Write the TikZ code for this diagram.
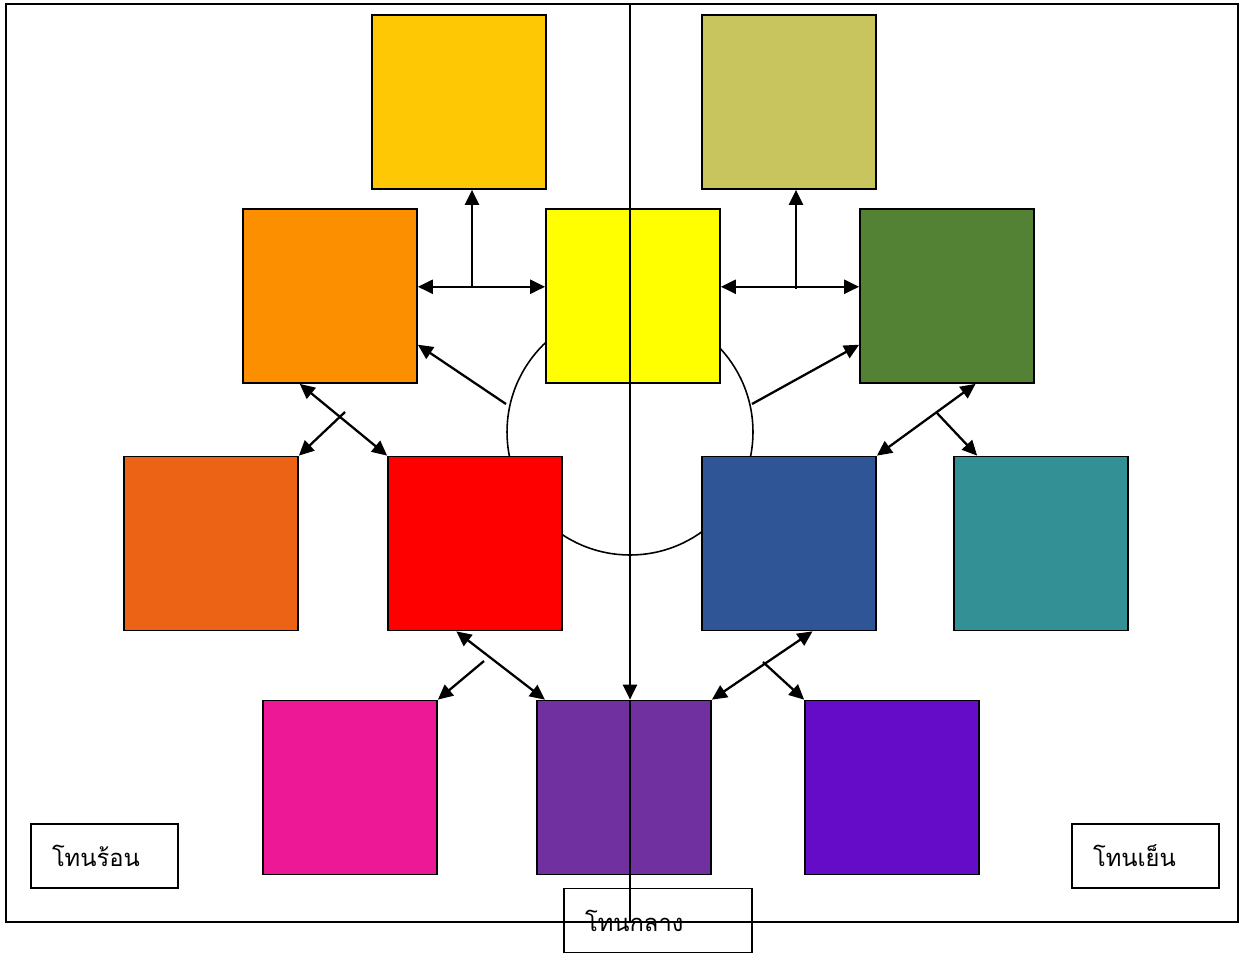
\documentclass[tikz,border=0pt]{standalone}
\usepackage{fontspec}
\newfontfamily\thaifont[Script=Thai]{Loma}
\usetikzlibrary{arrows.meta}
\definecolor{cgold}{HTML}{FFC805}
\definecolor{colive}{HTML}{C8C45E}
\definecolor{corange}{HTML}{FB8F00}
\definecolor{cyellow}{HTML}{FFFF00}
\definecolor{cgreen}{HTML}{548235}
\definecolor{cvermilion}{HTML}{EC6315}
\definecolor{cred}{HTML}{FF0000}
\definecolor{cblue}{HTML}{2F5597}
\definecolor{cteal}{HTML}{339095}
\definecolor{cpink}{HTML}{EC1896}
\definecolor{cpurple}{HTML}{7030A0}
\definecolor{cviolet}{HTML}{640CC8}
\tikzset{
    swatch/.style = {draw,line width=1pt,minimum size=3.48cm,inner sep=0},
    link/.style = {line width=1.3pt},
    ring/.style = {line width=0.9pt},
    tag/.style = {draw,line width=1pt,font=\thaifont\fontsize{13.5}{16}\selectfont,
        align=left,inner xsep=0.42cm,inner ysep=0,minimum height=1.28cm}
}

\begin{document}
\begin{tikzpicture}[x=0.02cm,y=-0.02cm,>={Triangle[length=3mm,width=2.8mm]}]
        \useasboundingbox (0,0) rectangle (1241,954);
        % Frame and wheel
        \draw[line width=1pt] (6,4) rectangle (1238,922);
        \draw[ring] (630,432) circle[radius=2.46cm];
        % Swatches
        \foreach \name/\px/\py in {gold/459/102,olive/789/102,
                orange/330/296,yellow/633/296,green/947/296,
                vermilion/211/543.5,red/475/543.5,blue/789/543.5,teal/1041/543.5,
                pink/350/787.5,purple/624/787.5,violet/892/787.5}
            \node[swatch,fill=c\name] (\name) at (\px,\py) {};
        % Junctions
        \path (472,287) coordinate (jl)
              (796,289) coordinate (jr)
              (506,404) coordinate (sl)
              (752,404) coordinate (sr)
              (345,412) coordinate (jo)
              (936,412) coordinate (jg)
              (484,661) coordinate (jd)
              (763,662) coordinate (jb)
              (630,4) coordinate (ttop)
              (630,922) coordinate (tbot)
        ;
        % Two-way links
        \foreach \src/\dest in {orange.6/yellow.174,yellow.6/green.174,
                orange.251/red.north west,green.-72/blue.north east,
                red.258/purple.132,blue.-75/purple.north east}
            \draw[link,<->] (\src) -- (\dest);
        % Branches
        \foreach \src/\dest in {sl/orange.-29,sr/green.209,
                jo/vermilion.north east,jg/teal.126,
                jd/pink.north east,jb/violet.north west}
            \draw[link,->] (\src) -- (\dest);
        \draw[link,->] (jl) -- (gold.south -| jl);
        \draw[link,->] (jr) -- (olive.south -| jr);
        % Axis
        \draw[link,->] (ttop) -- (purple.north -| ttop);
        \draw[link] (purple.north -| ttop) -- (tbot);
        % Tone labels
        \node[tag,minimum width=2.94cm,text width=2.1cm] (warm) at (104.5,856) {โทนร้อน};
        \node[tag,minimum width=2.94cm,text width=2.1cm] (cool) at (1145.5,856) {โทนเย็น};
        \node[tag,minimum width=3.76cm,text width=2.92cm] (mid) at (658,920.5) {โทนกลาง};
\end{tikzpicture}
\end{document}
